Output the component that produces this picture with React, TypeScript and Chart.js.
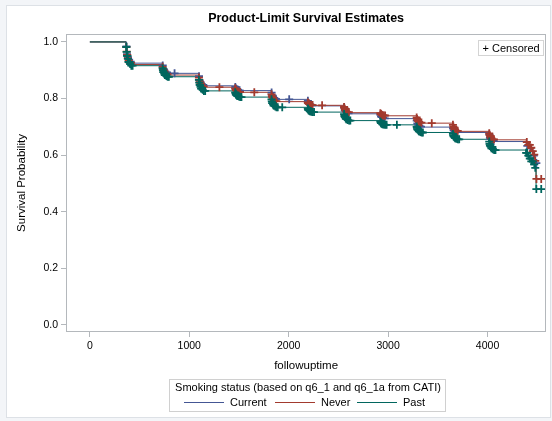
import React, { useEffect, useRef } from 'react';
import { Chart, registerables } from 'chart.js';

Chart.register(...registerables);

const FONT = '"Liberation Sans", Arial, Helvetica, sans-serif';

const chartTitle = 'Product-Limit Survival Estimates';
const xAxisTitle = 'followuptime';
const yAxisTitle = 'Survival Probability';
const legendTitle = 'Smoking status (based on q6_1 and q6_1a from CATI)';
const censoredLabel = '+ Censored';

const groupNames = ['Current', 'Never', 'Past'];
const groupColors = ['#445694', '#A23A2E', '#01665E'];

const xTicks = [0, 1000, 2000, 3000, 4000];
const yTicks = [0, 0.2, 0.4, 0.6, 0.8, 1.0];
const xRange = [-240, 4590];
const yRange = [-0.025, 1.028];

// Kaplan-Meier event times (days) and survival after each event
const currentDays = [
  0,
  366, 369, 373, 379, 387, 399, 417,
  731, 734, 738, 744, 752, 764, 782,
  1096, 1099, 1103, 1109, 1117, 1129, 1147,
  1461, 1464, 1468, 1474, 1482, 1494, 1512,
  1826, 1829, 1833, 1839, 1847, 1859, 1877,
  2191, 2194, 2198, 2204, 2212, 2224, 2242,
  2556, 2559, 2563, 2569, 2577, 2589, 2607,
  2921, 2924, 2928, 2934, 2942, 2954, 2972,
  3286, 3289, 3293, 3299, 3307, 3319, 3337,
  3651, 3654, 3658, 3664, 3672, 3684, 3702,
  4016, 4019, 4023, 4029, 4037, 4049, 4067,
  4385, 4400, 4420, 4440, 4460, 4475, 4488,
];
const currentSurvival = [
  1,
  0.984, 0.969, 0.957, 0.946, 0.937, 0.930, 0.925,
  0.917, 0.910, 0.904, 0.899, 0.895, 0.892, 0.889,
  0.879, 0.871, 0.864, 0.857, 0.852, 0.848, 0.845,
  0.841, 0.838, 0.835, 0.833, 0.831, 0.829, 0.828,
  0.821, 0.815, 0.810, 0.806, 0.802, 0.799, 0.797,
  0.792, 0.787, 0.784, 0.780, 0.778, 0.776, 0.774,
  0.768, 0.762, 0.758, 0.754, 0.751, 0.748, 0.746,
  0.742, 0.739, 0.736, 0.734, 0.732, 0.730, 0.729,
  0.722, 0.716, 0.712, 0.707, 0.704, 0.701, 0.699,
  0.695, 0.691, 0.688, 0.685, 0.683, 0.681, 0.680,
  0.673, 0.667, 0.661, 0.657, 0.653, 0.650, 0.648,
  0.641, 0.633, 0.624, 0.612, 0.598, 0.585, 0.572,
];
const currentCensored = [
  368, 374, 383, 395, 411,
  733, 739, 748, 760, 776,
  852,
  1098, 1104, 1113, 1125, 1141,
  1463, 1469, 1478, 1490, 1506,
  1828, 1834, 1843, 1855, 1871,
  2005,
  2193, 2199, 2208, 2220, 2236,
  2558, 2564, 2573, 2585, 2601,
  2923, 2929, 2938, 2950, 2966,
  3288, 3294, 3303, 3315, 3331,
  3653, 3659, 3668, 3680, 3696,
  4018, 4024, 4033, 4045, 4061,
  4400, 4430, 4465, 4491,
];

const neverDays = [
  0,
  366, 369, 373, 379, 387, 399, 417,
  731, 734, 738, 744, 752, 764, 782,
  1096, 1099, 1103, 1109, 1117, 1129, 1147,
  1461, 1464, 1468, 1474, 1482, 1494, 1512,
  1826, 1829, 1833, 1839, 1847, 1859, 1877,
  2191, 2194, 2198, 2204, 2212, 2224, 2242,
  2556, 2559, 2563, 2569, 2577, 2589, 2607,
  2921, 2924, 2928, 2934, 2942, 2954, 2972,
  3286, 3289, 3293, 3299, 3307, 3319, 3337,
  3651, 3654, 3658, 3664, 3672, 3684, 3702,
  4016, 4019, 4023, 4029, 4037, 4049, 4067,
  4390, 4410, 4430, 4450, 4468, 4478, 4488,
];
const neverSurvival = [
  1,
  0.982, 0.966, 0.954, 0.942, 0.933, 0.926, 0.920,
  0.912, 0.905, 0.899, 0.893, 0.889, 0.886, 0.883,
  0.874, 0.865, 0.858, 0.852, 0.847, 0.843, 0.840,
  0.836, 0.832, 0.830, 0.827, 0.825, 0.823, 0.822,
  0.815, 0.808, 0.803, 0.798, 0.794, 0.791, 0.789,
  0.786, 0.784, 0.782, 0.780, 0.778, 0.777, 0.776,
  0.770, 0.765, 0.761, 0.757, 0.754, 0.752, 0.750,
  0.748, 0.745, 0.744, 0.742, 0.741, 0.740, 0.739,
  0.733, 0.728, 0.724, 0.720, 0.717, 0.715, 0.713,
  0.707, 0.701, 0.696, 0.692, 0.689, 0.686, 0.684,
  0.677, 0.671, 0.667, 0.662, 0.659, 0.656, 0.654,
  0.646, 0.636, 0.626, 0.614, 0.602, 0.580, 0.516,
];
const neverCensored = [
  367, 371, 376, 382, 390, 401, 415,
  732, 736, 741, 747, 755, 766, 780,
  1097, 1101, 1106, 1112, 1120, 1131, 1145,
  1303,
  1462, 1466, 1471, 1477, 1485, 1496, 1510,
  1654,
  1827, 1831, 1836, 1842, 1850, 1861, 1875,
  2192, 2196, 2201, 2207, 2215, 2226, 2240,
  2336,
  2557, 2561, 2566, 2572, 2580, 2591, 2605,
  2922, 2926, 2931, 2937, 2945, 2956, 2970,
  3287, 3291, 3296, 3302, 3310, 3321, 3335,
  3439,
  3652, 3656, 3661, 3667, 3675, 3686, 3700,
  4017, 4021, 4026, 4032, 4040, 4051, 4065,
  4395, 4410, 4425, 4440, 4455, 4470, 4480, 4492, 4540,
];

const pastDays = [
  0,
  366, 369, 373, 379, 387, 399, 417,
  731, 734, 738, 744, 752, 764, 782,
  1096, 1099, 1103, 1109, 1117, 1129, 1147,
  1461, 1464, 1468, 1474, 1482, 1494, 1512,
  1826, 1829, 1833, 1839, 1847, 1859, 1877,
  2191, 2194, 2198, 2204, 2212, 2224, 2242,
  2556, 2559, 2563, 2569, 2577, 2589, 2607,
  2921, 2924, 2928, 2934, 2942, 2954, 2972,
  3286, 3289, 3293, 3299, 3307, 3319, 3337,
  3651, 3654, 3658, 3664, 3672, 3684, 3702,
  4016, 4019, 4023, 4029, 4037, 4049, 4067,
  4385, 4400, 4420, 4440, 4460, 4478, 4488,
];
const pastSurvival = [
  1,
  0.982, 0.965, 0.951, 0.940, 0.929, 0.922, 0.916,
  0.907, 0.900, 0.893, 0.888, 0.883, 0.880, 0.877,
  0.866, 0.856, 0.848, 0.841, 0.835, 0.831, 0.827,
  0.822, 0.818, 0.814, 0.811, 0.809, 0.807, 0.805,
  0.797, 0.790, 0.784, 0.779, 0.775, 0.772, 0.769,
  0.765, 0.762, 0.759, 0.757, 0.755, 0.753, 0.752,
  0.745, 0.739, 0.735, 0.730, 0.727, 0.724, 0.722,
  0.719, 0.716, 0.713, 0.711, 0.709, 0.708, 0.707,
  0.701, 0.696, 0.691, 0.688, 0.684, 0.682, 0.680,
  0.675, 0.670, 0.666, 0.663, 0.660, 0.658, 0.656,
  0.648, 0.640, 0.634, 0.629, 0.624, 0.621, 0.618,
  0.608, 0.598, 0.588, 0.578, 0.567, 0.555, 0.480,
];
const pastCensored = [
  367, 370, 374, 378, 383, 389, 396, 405, 417, 430,
  732, 735, 739, 743, 748, 754, 761, 770, 782, 795,
  1097, 1100, 1104, 1108, 1113, 1119, 1126, 1135, 1147, 1160,
  1462, 1465, 1469, 1473, 1478, 1484, 1491, 1500, 1512, 1525,
  1827, 1830, 1834, 1838, 1843, 1849, 1856, 1865, 1877, 1890,
  1935,
  2192, 2195, 2199, 2203, 2208, 2214, 2221, 2230, 2242, 2255,
  2557, 2560, 2564, 2568, 2573, 2579, 2586, 2595, 2607, 2620,
  2922, 2925, 2929, 2933, 2938, 2944, 2951, 2960, 2972, 2985,
  3088,
  3287, 3290, 3294, 3298, 3303, 3309, 3316, 3325, 3337, 3350,
  3652, 3655, 3659, 3663, 3668, 3674, 3681, 3690, 3702, 3715,
  4017, 4020, 4024, 4028, 4033, 4039, 4046, 4055, 4067, 4080,
  4388, 4398, 4410, 4425, 4440, 4455, 4470, 4480, 4491, 4540,
];

const groupDays = [currentDays, neverDays, pastDays];
const groupSurvival = [currentSurvival, neverSurvival, pastSurvival];
const groupCensored = [currentCensored, neverCensored, pastCensored];

const AXIS_GRAY = '#b4b8bc';
const TEXT = '#000000';

function survivalAt(days: number[], surv: number[], t: number): number {
  let v = surv[0];
  for (let i = 0; i < days.length; i++) {
    if (days[i] <= t) v = surv[i];
    else break;
  }
  return v;
}

function curvePoints(g: number) {
  const days = groupDays[g];
  const surv = groupSurvival[g];
  const pts = days.map((d, i) => ({ x: d, y: surv[i] }));
  const lastCensor = Math.max(...groupCensored[g]);
  if (lastCensor > days[days.length - 1]) {
    pts.push({ x: lastCensor, y: surv[surv.length - 1] });
  }
  return pts;
}

function censorPoints(g: number) {
  return groupCensored[g].map((t) => ({ x: t, y: survivalAt(groupDays[g], groupSurvival[g], t) }));
}

const decorPlugin = {
  id: 'decor',
  beforeDraw(chart: any) {
    const { ctx, width, height } = chart;
    ctx.save();
    ctx.fillStyle = '#f3f5f8';
    ctx.fillRect(0, 0, width, height);
    ctx.fillStyle = '#ffffff';
    ctx.fillRect(7, 6, 543, 411);
    ctx.strokeStyle = '#dde1e6';
    ctx.lineWidth = 1;
    ctx.strokeRect(6.5, 5.5, 544, 412);
    ctx.restore();
  },
  afterDraw(chart: any) {
    const { ctx, chartArea: a } = chart;
    ctx.save();
    // plot frame
    ctx.strokeStyle = AXIS_GRAY;
    ctx.lineWidth = 1;
    ctx.strokeRect(Math.round(a.left) + 0.5, Math.round(a.top) + 0.5,
      Math.round(a.right - a.left) - 1, Math.round(a.bottom - a.top) - 1);

    // title
    ctx.fillStyle = TEXT;
    ctx.font = `bold 12.5px ${FONT}`;
    ctx.textAlign = 'center';
    ctx.textBaseline = 'middle';
    ctx.fillText(chartTitle, (a.left + a.right) / 2, 19);

    // censored inset
    ctx.font = `11px ${FONT}`;
    const cw = ctx.measureText(censoredLabel).width + 8;
    const cx1 = Math.round(a.right) - 3 - Math.round(cw);
    ctx.fillStyle = '#ffffff';
    ctx.fillRect(cx1, 40, Math.round(cw), 15);
    ctx.strokeStyle = '#d4d4d4';
    ctx.strokeRect(cx1 + 0.5, 40.5, Math.round(cw), 15);
    ctx.fillStyle = TEXT;
    ctx.textAlign = 'left';
    ctx.fillText(censoredLabel, cx1 + 4.5, 48.5);

    // bottom legend
    const lx = 169, ly = 379, lw = 276, lh = 32;
    ctx.strokeStyle = '#d0d0d0';
    ctx.strokeRect(lx + 0.5, ly + 0.5, lw, lh);
    ctx.fillStyle = TEXT;
    ctx.font = `11px ${FONT}`;
    ctx.textAlign = 'center';
    ctx.fillText(legendTitle, lx + lw / 2 + 1, ly + 9);
    const itemY = ly + 23;
    const lineStarts = [184, 275, 357];
    groupNames.forEach((name, i) => {
      ctx.strokeStyle = groupColors[i];
      ctx.lineWidth = 1;
      ctx.beginPath();
      ctx.moveTo(lineStarts[i], itemY + 0.5);
      ctx.lineTo(lineStarts[i] + 40, itemY + 0.5);
      ctx.stroke();
      ctx.fillStyle = TEXT;
      ctx.textAlign = 'left';
      ctx.fillText(name, lineStarts[i] + 46, itemY + 1);
    });
    ctx.restore();
  },
};

export default function App() {
  const canvasRef = useRef<HTMLCanvasElement | null>(null);

  useEffect(() => {
    const canvas = canvasRef.current;
    if (!canvas) return;

    // step lines sit beneath all censor markers; Past is drawn last in each layer
    const lineOrder = [12, 11, 10];
    const markerOrder = [2, 1, 0];
    const datasets: any[] = [];
    groupNames.forEach((name, g) => {
      datasets.push({
        type: 'line',
        label: name,
        data: curvePoints(g),
        borderColor: groupColors[g],
        backgroundColor: groupColors[g],
        borderWidth: 1,
        pointRadius: 0,
        stepped: 'before',
        fill: false,
        order: lineOrder[g],
      });
      datasets.push({
        type: 'scatter',
        label: name + ' (censored)',
        data: censorPoints(g),
        showLine: false,
        pointStyle: 'cross',
        pointRadius: 4,
        pointBorderWidth: 1.8,
        borderColor: groupColors[g],
        backgroundColor: groupColors[g],
        order: markerOrder[g],
      });
    });

    const tickFont = { family: FONT, size: 10.5 };
    const labelFont = { family: FONT, size: 11.5 };

    const chart = new Chart(canvas, {
      type: 'line',
      data: { datasets },
      options: {
        animation: false,
        responsive: false,
        maintainAspectRatio: false,
        devicePixelRatio: 1,
        events: [],
        layout: { padding: { left: 0, right: 4, top: 34, bottom: 48 } },
        plugins: {
          legend: { display: false },
          tooltip: { enabled: false },
          title: { display: false },
        },
        scales: {
          x: {
            type: 'linear',
            min: xRange[0],
            max: xRange[1],
            afterBuildTicks: (s: any) => {
              s.ticks = xTicks.map((v) => ({ value: v }));
            },
            afterFit: (s: any) => {
              s.height = 41;
            },
            grid: { display: true, drawOnChartArea: false, drawTicks: true, tickLength: 5, color: AXIS_GRAY },
            border: { display: false },
            ticks: {
              font: tickFont,
              color: TEXT,
              padding: 3,
              maxRotation: 0,
              autoSkip: false,
              callback: (v: any) => String(v),
            },
            title: { display: true, text: xAxisTitle, font: labelFont, color: TEXT, padding: { top: 0, bottom: 0 } },
          },
          y: {
            type: 'linear',
            min: yRange[0],
            max: yRange[1],
            afterBuildTicks: (s: any) => {
              s.ticks = yTicks.map((v) => ({ value: v }));
            },
            afterFit: (s: any) => {
              s.width = 66;
            },
            grid: { display: true, drawOnChartArea: false, drawTicks: true, tickLength: 5, color: AXIS_GRAY },
            border: { display: false },
            ticks: {
              font: tickFont,
              color: TEXT,
              padding: 3,
              autoSkip: false,
              callback: (v: any) => Number(v).toFixed(1),
            },
            title: { display: true, text: yAxisTitle, font: labelFont, color: TEXT, padding: { top: 15, bottom: 0 } },
          },
        },
      },
      plugins: [decorPlugin],
    } as any);

    return () => chart.destroy();
  }, []);

  return (
    <div style={{ position: 'absolute', left: 0, top: 0, width: 552, height: 421 }}>
      <canvas ref={canvasRef} width={552} height={421} style={{ display: 'block', width: 552, height: 421 }} />
    </div>
  );
}
